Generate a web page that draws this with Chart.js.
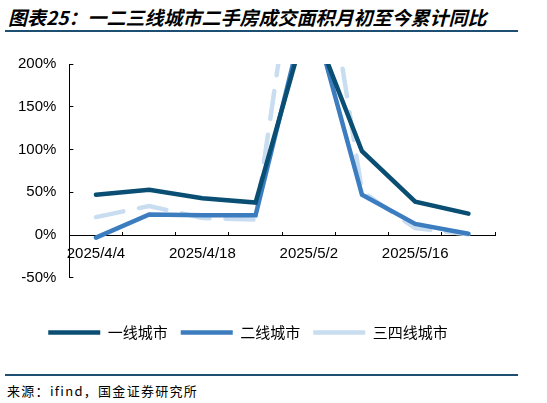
<!DOCTYPE html>
<html>
<head>
<meta charset="utf-8">
<script src="https://cdn.jsdelivr.net/npm/chart.js@4.4.1/dist/chart.umd.min.js"></script>
<style>
  html, body { margin: 0; padding: 0; background: #fff; }
  #page { position: relative; width: 547px; height: 403px; overflow: hidden; }
  #title {
    position: absolute; left: 8px; top: 3px;
    font: italic bold 19px "Noto Sans CJK SC", sans-serif; color: #000;
    white-space: nowrap;
  }
  .rule { position: absolute; left: 5px; width: 513px; height: 2px; background: #1d4f72; }
  #source {
    position: absolute; left: 7px; top: 381px;
    font: 13px "Noto Sans CJK SC", sans-serif; color: #000; letter-spacing: 1.3px;
  }
  #wrap { position: absolute; left: 0; top: 38px; width: 547px; height: 320px; }
</style>
</head>
<body>
<div id="page">
  <div id="title">图表25：一二三线城市二手房成交面积月初至今累计同比</div>
  <div class="rule" style="top:30px"></div>
  <div id="wrap"><canvas id="lineChart"></canvas></div>
  <div class="rule" style="top:374px"></div>
  <div id="source">来源：ifind，国金证券研究所</div>
</div>
<script>
// weekly points, values in %
const categories = ["2025/4/4", "2025/4/11", "2025/4/18", "2025/4/25", "2025/5/2", "2025/5/9", "2025/5/16", "2025/5/23"];
const tier1 = [47, 53, 43, 38, 258, 98, 39, 25];
const tier2 = [-3, 24, 23, 23, 275, 47, 13, 1.5];
const tier34 = [21, 34, 20, 18, 445, 51, 8, 1];
const yTicks = [-50, 0, 50, 100, 150, 200];

const ctx = document.getElementById("lineChart").getContext("2d");

const lineChart = new Chart(ctx, {
  type: "line",
  data: {
    labels: categories,
    datasets: [
      {
        label: "一线城市",
        data: tier1,
        borderColor: "#0a4f73",
        backgroundColor: "#0a4f73",
        borderWidth: 4.5,
        borderCapStyle: "round",
      },
      {
        label: "二线城市",
        data: tier2,
        borderColor: "#3c7dc0",
        backgroundColor: "#3c7dc0",
        borderWidth: 4.5,
        borderCapStyle: "round",
      },
      {
        label: "三四线城市",
        data: tier34,
        borderColor: "#c9ddf0",
        backgroundColor: "#c9ddf0",
        borderWidth: 4.5,
        borderDash: [28, 16],
        borderCapStyle: "round",
      },
    ],
  },
  options: {
    responsive: true,
    maintainAspectRatio: false,
    animation: false,
    elements: {
      point: { radius: 0, hoverRadius: 0 },
      line: { tension: 0 },
    },
    layout: {
      padding: { left: 1, right: 52, top: 16, bottom: 8 },
    },
    scales: {
      y: {
        min: yTicks[0],
        max: yTicks[yTicks.length - 1],
        afterBuildTicks(scale) {
          scale.ticks = yTicks.map((v) => ({ value: v }));
        },
        border: { display: true, color: "#000", width: 1 },
        grid: { drawOnChartArea: false, drawTicks: true, tickLength: -4, color: "#000" },
        ticks: {
          padding: 17,
          color: "#000",
          font: { family: "Liberation Sans, Arial", size: 15 },
          callback: (v) => v + "%",
        },
      },
      x: {
        position: { y: 0 },
        offset: true,
        border: { display: true, color: "#000", width: 1 },
        grid: { offset: true, drawOnChartArea: false, drawTicks: true, tickLength: -4, color: "#000" },
        ticks: {
          autoSkip: false,
          maxRotation: 0,
          padding: 14,
          color: "#000",
          font: { family: "Liberation Sans, Arial", size: 15 },
          callback: (v, i) => (i % 2 === 0 ? categories[i] : ""),
        },
      },
    },
    plugins: {
      legend: {
        position: "bottom",
        // empty title only used as a spacer above the legend row
        title: { display: true, text: "", font: { size: 1 }, padding: { top: 33, bottom: 0 } },
        labels: {
          usePointStyle: true,
          pointStyle: "line",
          pointStyleWidth: 52,
          boxHeight: 5,
          padding: 13,
          color: "#000",
          font: { family: "Noto Sans CJK SC", size: 15 },
        },
      },
      tooltip: { enabled: false },
    },
  },
});
</script>
</body>
</html>
